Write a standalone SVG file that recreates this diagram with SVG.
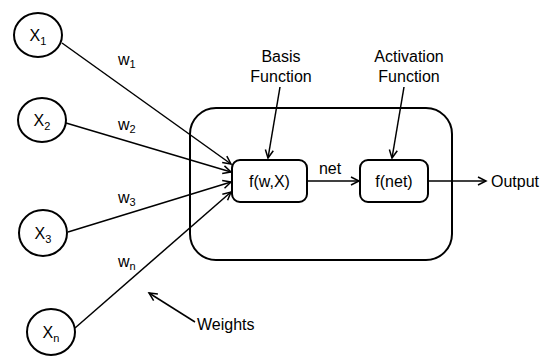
<svg xmlns="http://www.w3.org/2000/svg" width="552" height="356" viewBox="0 0 552 356">
  <style>
    text { font-family: "Liberation Sans", Arial, sans-serif; font-size: 16px; fill: #000; }
    .sub { font-size: 11px; }
    .node { fill: #fff; stroke: #000; stroke-width: 2; }
    .edge { fill: none; stroke: #000; stroke-width: 1.5; marker-end: url(#arrow); }
  </style>
  <defs>
    <marker id="arrow" markerUnits="userSpaceOnUse" markerWidth="12" markerHeight="12" refX="9" refY="5" orient="auto">
      <path d="M1,1 L9,5 L1,9" fill="none" stroke="#000" stroke-width="1.5"/>
    </marker>
  </defs>

  <rect width="552" height="356" fill="#fff"/>

  <!-- neuron body -->
  <g id="neuron">
    <rect class="node" x="190" y="108" width="262" height="152" rx="26" ry="26"/>
  </g>

  <!-- connectors -->
  <g id="connectors">
    <line class="edge" x1="62" y1="43" x2="231" y2="164"/>
    <line class="edge" x1="66" y1="123" x2="231" y2="172"/>
    <line class="edge" x1="68" y1="232" x2="231" y2="182"/>
    <line class="edge" x1="75" y1="328" x2="231" y2="192"/>
    <line class="edge" x1="280" y1="87" x2="268" y2="158"/>
    <line class="edge" x1="404" y1="87" x2="392" y2="158"/>
    <line class="edge" x1="307" y1="181" x2="359" y2="181"/>
    <line class="edge" x1="428" y1="181" x2="486" y2="181"/>
    <line class="edge" x1="195" y1="322" x2="149" y2="293"/>
  </g>

  <!-- inputs -->
  <g id="x1">
    <ellipse class="node" cx="38" cy="35" rx="24" ry="22"/>
    <text x="38" y="41" text-anchor="middle">X<tspan class="sub" dy="4">1</tspan></text>
  </g>
  <g id="x2">
    <ellipse class="node" cx="42" cy="120" rx="24" ry="22"/>
    <text x="42" y="126" text-anchor="middle">X<tspan class="sub" dy="4">2</tspan></text>
  </g>
  <g id="x3">
    <ellipse class="node" cx="43" cy="233" rx="24" ry="23"/>
    <text x="43" y="239" text-anchor="middle">X<tspan class="sub" dy="4">3</tspan></text>
  </g>
  <g id="xn">
    <ellipse class="node" cx="51" cy="332" rx="24" ry="23"/>
    <text x="51" y="338" text-anchor="middle">X<tspan class="sub" dy="4">n</tspan></text>
  </g>

  <!-- weight labels -->
  <g id="weights">
    <text x="118" y="65">w<tspan class="sub" dy="3">1</tspan></text>
    <text x="118" y="130">w<tspan class="sub" dy="3">2</tspan></text>
    <text x="118" y="203">w<tspan class="sub" dy="3">3</tspan></text>
    <text x="118" y="267">w<tspan class="sub" dy="3">n</tspan></text>
    <text x="197" y="330">Weights</text>
  </g>

  <!-- basis function -->
  <g id="basis">
    <rect class="node" x="232" y="160" width="75" height="42" rx="8" ry="8"/>
    <text x="269.5" y="187" text-anchor="middle">f(w,X)</text>
    <text x="281" y="62" text-anchor="middle">Basis</text>
    <text x="281" y="82" text-anchor="middle">Function</text>
  </g>

  <!-- activation function -->
  <g id="activation">
    <rect class="node" x="360" y="160" width="68" height="42" rx="8" ry="8"/>
    <text x="394" y="187" text-anchor="middle">f(net)</text>
    <text x="409" y="62" text-anchor="middle">Activation</text>
    <text x="409" y="82" text-anchor="middle">Function</text>
  </g>

  <text x="330" y="174" text-anchor="middle">net</text>
  <text x="491" y="187">Output</text>
</svg>
